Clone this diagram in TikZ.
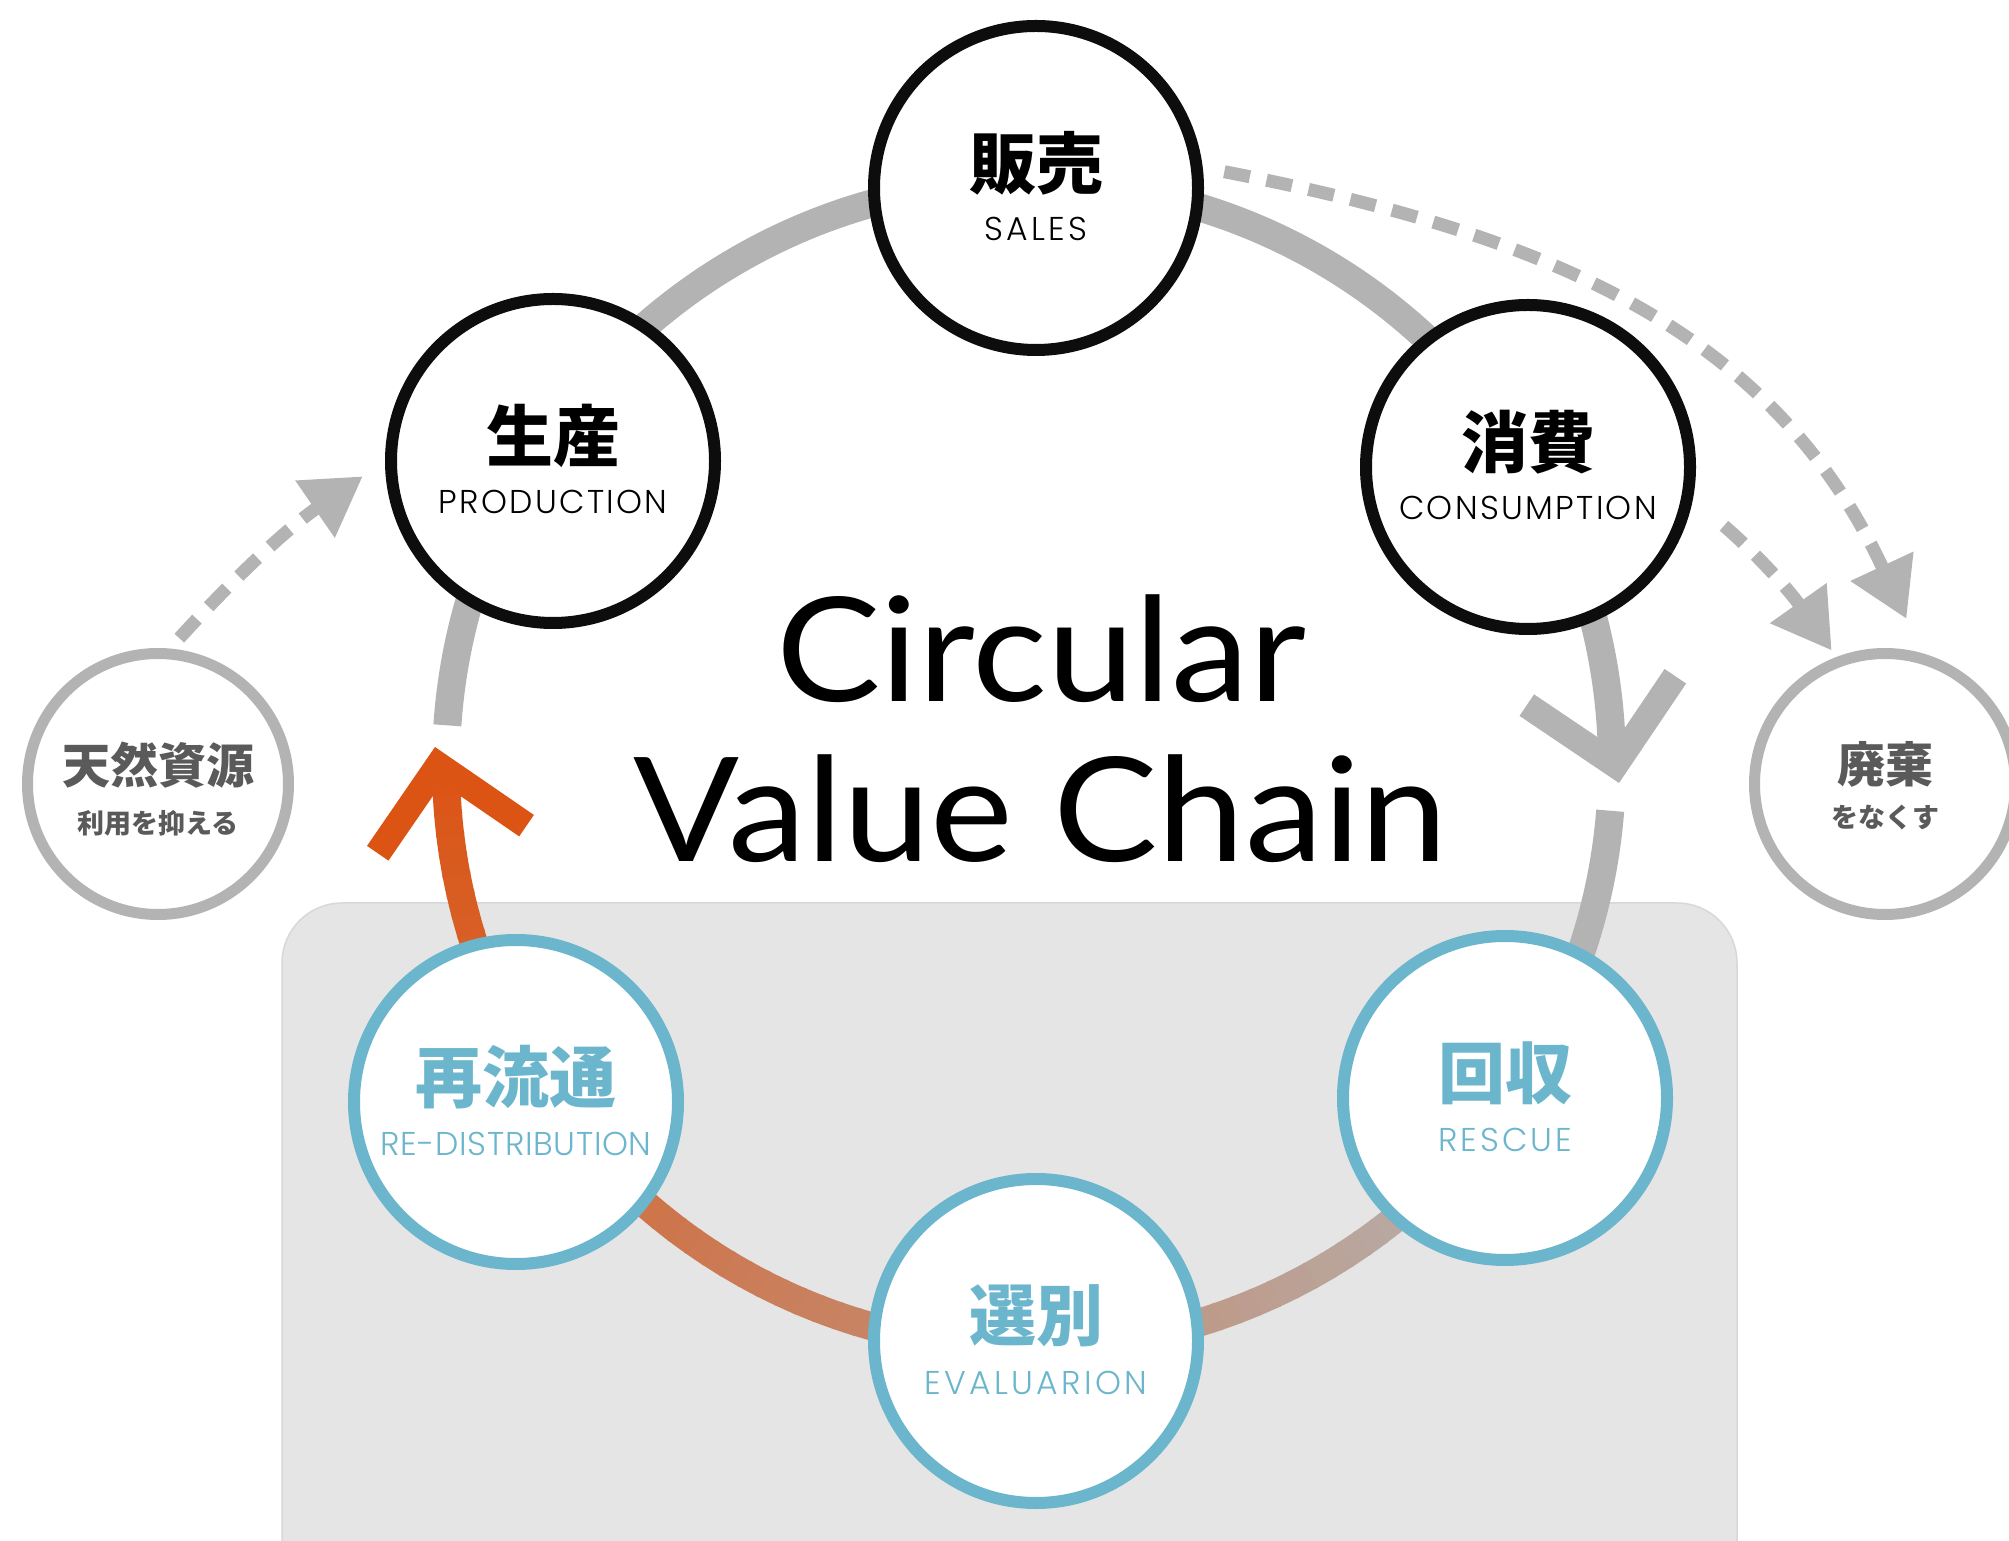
\documentclass[tikz,border=0pt]{standalone}
\usepackage{fontspec}
\usetikzlibrary{arrows.meta,calc}
\IfFontExistsTF{Poppins Light}{\newfontfamily\latinfont{Poppins Light}}{\newfontfamily\latinfont{Poppins}}
\newfontfamily\titlefont{Lato}[FakeStretch=1.08]
\newfontfamily\jpfont{Noto Sans CJK JP}
\definecolor{ringgray}{HTML}{B3B3B3}
\definecolor{ringorange}{HTML}{DC5414}
\definecolor{nodeblue}{HTML}{6BB6CC}
\definecolor{textgray}{HTML}{5A5A5A}
\definecolor{panelgray}{HTML}{E5E5E5}
\definecolor{paneledge}{HTML}{D8D8D8}
\definecolor{inkblack}{HTML}{0D0D0D}
\newcommand{\spaced}[2]{{\addfontfeature{LetterSpace=#1}#2}}
\begin{document}
\begin{tikzpicture}[x=1pt,y=1pt,
  stage/.style={circle, draw=inkblack, line width=12pt, fill=white, minimum size=324pt, inner sep=0pt},
  bluestage/.style={stage, draw=nodeblue},
  sidestage/.style={circle, draw=ringgray, line width=11pt, fill=white, minimum size=261pt, inner sep=0pt},
  jpbig/.style={font=\jpfont\bfseries\fontsize{67}{67}\selectfont, inner sep=0pt},
  jpside/.style={font=\jpfont\bfseries\fontsize{48}{48}\selectfont, inner sep=0pt, text=textgray},
  jpsmall/.style={font=\jpfont\bfseries\fontsize{27}{27}\selectfont, inner sep=0pt, text=textgray},
  enlabel/.style={font=\latinfont\fontsize{33}{33}\selectfont, inner sep=0pt, anchor=base},
  titletext/.style={font=\titlefont\fontsize{145}{145}\selectfont, inner sep=0pt, anchor=base},
  ringline/.style={draw=ringgray, line width=28pt},
  dasharrow/.style={draw=ringgray, line width=13pt, dash pattern=on 26pt off 17pt, -{Triangle[length=58pt,width=66pt]}},
  chevron/.pic={\fill (0,0) -- (-84.85,84.85) -- (-103.24,66.47) -- (-36.77,0) -- (-103.24,-66.47) -- (-84.85,-84.85) -- cycle;}
]
\fill[white] (0,0) rectangle (2009,1540);
\useasboundingbox (0,0) rectangle (2009,1540);

% panel
\filldraw[fill=panelgray, draw=paneledge, line width=1.5pt, rounded corners=60pt] (282,-100) rectangle (1737,637);

% ring
\coordinate (O) at (1029,775);
\draw[ringline] (O) ++(176.1:583) arc[start angle=176.1, end angle=0.5, radius=583];
\draw[ringline] (O) ++(-4.5:583) arc[start angle=-4.5, end angle=-35.5, radius=583];
\foreach \i in {0,...,71} {
  \pgfmathsetmacro\a{-35-2*\i}
  \pgfmathsetmacro\b{\a-2.3}
  \pgfmathsetmacro\t{min(100,(\i+0.5)*2/144.5*100)}
  \draw[line width=28pt, color=ringorange!\t!ringgray] (O) ++(\a:583) arc[start angle=\a, end angle=\b, radius=583];
}
\pic[rotate=-79, color=ringgray] at (1619,757) {chevron};
\pic[rotate=100.5, color=ringorange] at (435,793) {chevron};

% stages
\node[stage] (S) at (1036,1352) {};
\node[stage] (P) at (553,1079) {};
\node[stage] (C) at (1528,1073) {};
\node[bluestage] (R) at (516,438) {};
\node[bluestage] (Q) at (1505,442) {};
\node[bluestage] (E) at (1036,199) {};
\node[sidestage] (N) at (158,756) {};
\node[sidestage] (W) at (1885,756) {};

% dashed arrows
\draw[dasharrow, shorten <=14pt, shorten >=27pt] (N.85) to[bend left=6.5] (P.180);
\draw[dasharrow, shorten <=22pt, shorten >=38pt] (S.7) to[out=-11, in=115, looseness=1.05] (W.74);
\draw[dasharrow, shorten <=41pt, shorten >=8pt] (C.-11) to[bend left=7] (W.111);

% labels
\node[jpbig] (Sj) at ([yshift=25pt]S.center) {販売};
\node[enlabel] (Se) at ([yshift=-53pt]S.center) {\spaced{10}{SALES}};
\node[jpbig] (Pj) at ([yshift=25pt]P.center) {生産};
\node[enlabel] (Pe) at ([yshift=-53pt]P.center) {\spaced{7}{PRODUCTION}};
\node[jpbig] (Cj) at ([yshift=25pt]C.center) {消費};
\node[enlabel] (Ce) at ([yshift=-53pt]C.center) {\spaced{7}{CONSUMPTION}};
\node[jpbig, text=nodeblue] (Rj) at ([yshift=25pt]R.center) {再流通};
\node[enlabel, text=nodeblue] (Re) at ([yshift=-53pt]R.center) {\spaced{2}{RE-DISTRIBUTION}};
\node[jpbig, text=nodeblue] (Qj) at ([yshift=25pt]Q.center) {回収};
\node[enlabel, text=nodeblue] (Qe) at ([yshift=-53pt]Q.center) {\spaced{9}{RESCUE}};
\node[jpbig, text=nodeblue] (Ej) at ([yshift=25pt]E.center) {選別};
\node[enlabel, text=nodeblue] (Ee) at ([yshift=-53pt]E.center) {\spaced{10}{EVALUARION}};
\node[jpside] (Nj) at ([yshift=19pt]N.center) {天然資源};
\node[jpsmall] (Ns) at ([yshift=-39pt]N.center) {利用を抑える};
\node[jpside] (Wj) at ([yshift=20pt]W.center) {廃棄};
\node[jpsmall] (Ws) at ([yshift=-33pt]W.center) {をなくす};

% title
\node[titletext] (T1) at (1041,838) {Circular};
\node[titletext] (T2) at (1041,678) {Value Chain};
\end{tikzpicture}
\end{document}
